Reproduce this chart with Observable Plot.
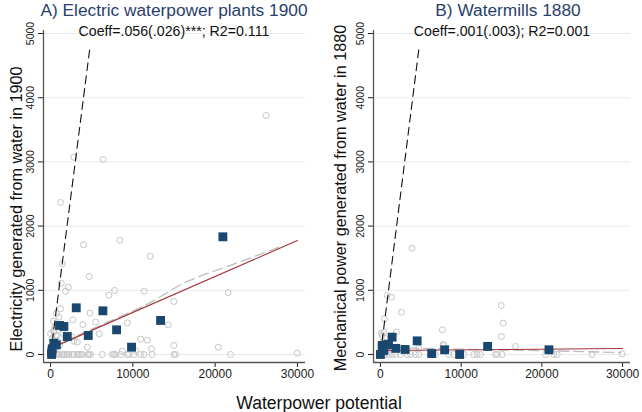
<!DOCTYPE html>
<html>
<head>
<meta charset="utf-8">
<script src="https://cdn.jsdelivr.net/npm/d3@7"></script>
<script src="https://cdn.jsdelivr.net/npm/@observablehq/plot@0.6"></script>
<style>
  html, body { margin: 0; padding: 0; background: #fff; }
  #wrap { position: relative; width: 642px; height: 412px; font-family: "Liberation Sans", Arial, sans-serif; overflow: hidden; }
  .abs { position: absolute; white-space: nowrap; }
  .title { font-size: 17.3px; color: #2b3f6c; transform: translateX(-50%); }
  .sub { font-size: 14.2px; color: #111; transform: translateX(-50%); }
  .ylab { font-size: 16.2px; color: #111; transform: translate(-50%, -50%) rotate(-90deg); }
  .xlab { font-size: 17.6px; color: #111; transform: translateX(-50%); }
  svg { position: absolute; top: 0; overflow: visible; }
</style>
</head>
<body>
<div id="wrap"></div>
<script>
// ---- data ----
const panelTitles = ["A) Electric waterpower plants 1900", "B) Watermills 1880"];
const panelStats = ["Coeff=.056(.026)***; R2=0.111", "Coeff=.001(.003); R2=0.001"];
const yLabels = ["Electricity generated from water in 1900", "Mechanical power generated from water in 1880"];
const xLabel = "Waterpower potential";
const xTicks = [0, 10000, 20000, 30000];
const yTicks = [0, 1000, 2000, 3000, 4000, 5000];

// Panel A: municipalities (x = waterpower potential, y = electricity)
const circlesA = [
  [2830,3073],[6400,3037],[1215,2368],[4010,1709],[8420,1780],[12110,1531],[1420,1413],[4700,1215],[26200,3723],
  [1300,1111],[2150,1048],[1820,986],[7780,997],[7090,924],[11380,986],[21590,966],[14980,826],
  [1215,711],[4780,643],[3930,467],[5470,503],[5920,321],[9320,493],[14300,462],[2710,540],
  [10940,239],[11750,223],[12270,89],[14980,140],[20380,114],[10330,62],[29970,20],
  [810,296],[400,347],[4460,114],[3240,192],[2640,270],[1010,581],[2830,207],[8710,51],[400,374],[610,296],[0,322],
  [200,250],[300,180],[500,420],[700,640],[900,200],[150,120],[600,100],[1100,150],[250,60],[1500,330],[350,520],
  [0,0],[100,0],[200,0],[300,0],[400,0],[600,0],[810,0],[1010,0],[1420,0],[1620,0],[1820,0],[2030,0],[2220,0],
  [2640,0],[2830,0],[3240,0],[3440,0],[3650,0],[3850,0],[4530,0],[4660,0],[4860,0],[6280,0],[7500,0],[7700,0],
  [7900,0],[8510,0],[9320,0],[9510,0],[10120,0],[10940,0],[11340,0],[12350,0],[14980,0],[15190,0],[21870,0]
];
const squaresA = [
  [120,0],[150,40],[200,89],[400,176],[700,150],[1090,452],[1620,436],[2030,280],[3120,727],
  [4580,296],[6360,680],[8020,384],[9840,114],[13370,530],[20940,1833]
];
const fitA = [[0,95],[30000,1775]];
const lowessA = [[0,90],[3000,280],[6000,450],[9000,620],[12000,800],[14000,950],[16000,1100],[18000,1210],[21000,1350],[24000,1490],[27700,1670]];

// Panel B: watermills
const circlesB = [
  [3930,1656],[830,919],[1360,893],[2600,659],[14960,763],[15200,488],[14990,280],[7680,384],[1980,348],
  [120,332],[410,348],[500,556],[210,296],[16730,125],[7850,140],[4750,98],[7770,156],[300,200],[600,250],
  [200,150],[900,120],[100,60],[1500,100],[700,60],
  [0,0],[200,0],[400,0],[620,0],[1030,0],[1450,0],[1860,0],[2480,0],[3310,0],[3720,0],[4340,0],[4750,0],
  [6410,0],[6820,0],[8460,0],[9080,0],[9910,0],[10320,0],[11560,0],[11980,0],[12390,0],[14250,0],[14460,0],
  [15080,0],[20450,0],[21480,0],[21890,0],[26230,0],[29950,10]
];
const squaresB = [
  [0,0],[210,140],[410,62],[740,150],[1000,160],[1450,270],[1900,95],[3050,78],[4550,212],
  [6350,15],[7950,73],[9810,0],[13280,125],[20880,73]
];
const fitB = [[0,62],[30000,92]];
const lowessB = [[0,30],[500,90],[2000,105],[5000,95],[10000,82],[15000,70],[20000,60],[25000,45],[29800,30]];

const diag = [[0,0],[4800,4800]];

// ---- drawing ----
const wrap = document.getElementById("wrap");
const navy = "#1a476f";

function panel(circles, squares, fit, lowess, left, width, marginRight) {
  const xDomain = [-860, 30980];
  const yDomain = [-125, 5047];
  const svg = Plot.plot({
    width, height: 385,
    marginLeft: 43, marginRight, marginTop: 30, marginBottom: 23,
    style: { fontFamily: "Liberation Sans, Arial, sans-serif", fontSize: "12px", color: "#222", background: "transparent", overflow: "visible" },
    x: { domain: xDomain, ticks: xTicks, tickSize: 5, tickPadding: 2, tickFormat: d => String(d), label: null },
    y: { domain: yDomain, ticks: yTicks, tickSize: 5, tickFormat: () => "", label: null },
    marks: [
      Plot.ruleY(yTicks, { stroke: "#e2ecef", strokeWidth: 1 }),
      Plot.ruleX([xDomain[0]], { stroke: "#555", strokeWidth: 1.3 }),
      Plot.ruleY([yDomain[0]], { stroke: "#555", strokeWidth: 1.3 }),
      Plot.text(yTicks, { x: xDomain[0], y: d => d, text: d => String(d), rotate: -90, dx: -13, textAnchor: "middle", fontSize: 10.5, fill: "#222" }),
      Plot.dot(circles, { x: d => d[0], y: d => d[1], r: 3, stroke: "#c6c6c6", strokeWidth: 1, fill: "none" }),
      Plot.line(lowess, { x: d => d[0], y: d => d[1], stroke: "#bcbcbc", strokeWidth: 1.3, strokeDasharray: "10,5", curve: "monotone-x" }),
      Plot.line(diag, { x: d => d[0], y: d => d[1], stroke: "#111", strokeWidth: 1.1, strokeDasharray: "8,5" }),
      Plot.line(fit, { x: d => d[0], y: d => d[1], stroke: "#a3343b", strokeWidth: 1.1 }),
      Plot.dot(squares, { x: d => d[0], y: d => d[1], r: 5, symbol: "square", fill: navy, stroke: "none" })
    ]
  });
  svg.style.left = left + "px";
  wrap.appendChild(svg);
}

panel(circlesA, squaresA, fitA, lowessA, 0, 325, 20);
panel(circlesB, squaresB, fitB, lowessB, 330, 312, 12);

function addText(cls, text, x, y) {
  const d = document.createElement("div");
  d.className = "abs " + cls;
  d.textContent = text;
  d.style.left = x + "px";
  d.style.top = y + "px";
  wrap.appendChild(d);
}
addText("title", panelTitles[0], 174, 0);
addText("title", panelTitles[1], 508, 0);
addText("sub", panelStats[0], 174, 23);
addText("sub", panelStats[1], 502, 23);
addText("ylab", yLabels[0], 16, 209);
addText("ylab", yLabels[1], 340, 198);
addText("xlab", xLabel, 319, 393);
</script>
</body>
</html>
